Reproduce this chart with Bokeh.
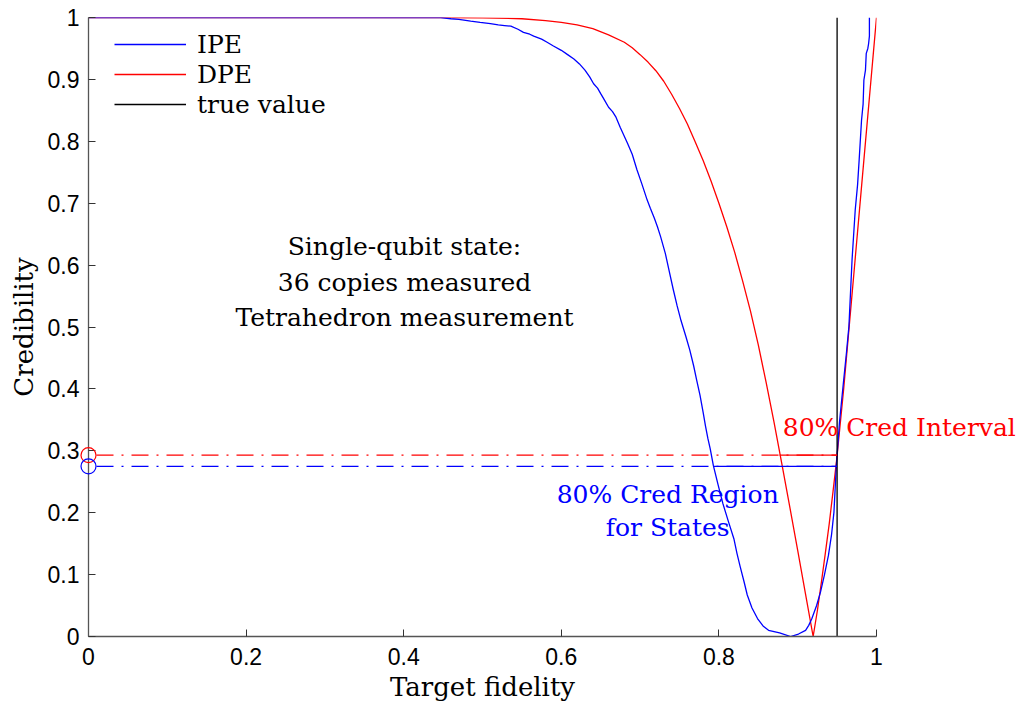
from bokeh.plotting import figure
from bokeh.models import Range1d, FixedTicker, Legend, LegendItem
from bokeh.core.properties import value
from bokeh.embed import file_html
from bokeh.resources import INLINE

# ---------------- data ----------------
ipe_x = [0.0, 0.447, 0.460, 0.470, 0.485, 0.497, 0.510, 0.520, 0.528, 0.536,
         0.545, 0.552, 0.560, 0.565, 0.575, 0.582, 0.590, 0.600, 0.608, 0.616,
         0.623, 0.630, 0.636, 0.641, 0.646, 0.650, 0.655, 0.660, 0.665, 0.669,
         0.675, 0.684, 0.690, 0.696, 0.702, 0.709, 0.713, 0.718, 0.722, 0.726,
         0.732, 0.737, 0.742, 0.747, 0.752, 0.758, 0.763, 0.768, 0.772, 0.776,
         0.780, 0.783, 0.786, 0.789, 0.793, 0.799, 0.805, 0.812, 0.819, 0.823,
         0.827, 0.832, 0.836, 0.842, 0.849, 0.856, 0.863, 0.877, 0.891, 0.901,
         0.910, 0.914, 0.918, 0.924, 0.929, 0.934, 0.939, 0.943, 0.946, 0.949,
         0.953, 0.958, 0.962, 0.965, 0.969, 0.973, 0.976, 0.978, 0.981, 0.983,
         0.984, 0.986, 0.987, 0.989, 0.990, 0.991, 0.991]
ipe_y = [1.0, 1.0, 0.998, 0.997, 0.994, 0.992, 0.990, 0.988, 0.987, 0.986,
         0.981, 0.976, 0.973, 0.970, 0.965, 0.960, 0.954, 0.947, 0.940, 0.933,
         0.925, 0.915, 0.904, 0.893, 0.886, 0.877, 0.866, 0.855, 0.848, 0.840,
         0.822, 0.797, 0.779, 0.754, 0.732, 0.705, 0.692, 0.676, 0.662, 0.646,
         0.619, 0.590, 0.561, 0.534, 0.510, 0.485, 0.463, 0.437, 0.413, 0.390,
         0.362, 0.340, 0.320, 0.303, 0.276, 0.245, 0.215, 0.186, 0.158, 0.134,
         0.113, 0.088, 0.067, 0.046, 0.029, 0.017, 0.010, 0.006, 0.0, 0.004,
         0.010, 0.018, 0.029, 0.050, 0.072, 0.100, 0.131, 0.165, 0.201, 0.275,
         0.346, 0.410, 0.460, 0.501, 0.609, 0.689, 0.730, 0.770, 0.834, 0.860,
         0.899, 0.915, 0.942, 0.950, 0.958, 0.970, 1.0]

dpe_x = [0.0, 0.45, 0.50, 0.55, 0.58, 0.60, 0.62, 0.64, 0.66, 0.68,
         0.69, 0.70, 0.71, 0.72, 0.73, 0.74, 0.75, 0.76, 0.77, 0.78,
         0.79, 0.80, 0.81, 0.82, 0.83, 0.84, 0.85, 0.86, 0.87, 0.88,
         0.89, 0.90, 0.91, 0.9196, 0.925, 0.930, 0.935, 0.940, 0.945, 0.950,
         0.9585, 0.971, 0.984, 1.0]
dpe_y = [1.0, 1.0, 0.9995, 0.998, 0.995, 0.992, 0.988, 0.982, 0.972, 0.960,
         0.951, 0.940, 0.928, 0.914, 0.897, 0.876, 0.853, 0.828, 0.799, 0.769,
         0.736, 0.700, 0.662, 0.621, 0.575, 0.526, 0.471, 0.410, 0.346, 0.278,
         0.209, 0.139, 0.068, 0.0, 0.042, 0.087, 0.134, 0.182, 0.236, 0.292,
         0.402, 0.582, 0.770, 1.0]

true_fidelity = 0.950
ipe_level = 0.275
dpe_level = 0.293
ipe_region_left = 0.793
dpe_interval_left = 0.877

x_ticks = [0, 0.2, 0.4, 0.6, 0.8, 1]
x_tick_labels = ["0", "0.2", "0.4", "0.6", "0.8", "1"]
y_ticks = [0, 0.1, 0.2, 0.3, 0.4, 0.5, 0.6, 0.7, 0.8, 0.9, 1]
y_tick_labels = ["0", "0.1", "0.2", "0.3", "0.4", "0.5", "0.6", "0.7", "0.8", "0.9", "1"]

series_names = ["IPE", "DPE", "true value"]
info_lines = ["Single-qubit state:", "36 copies measured", "Tetrahedron measurement"]
x_title = "Target fidelity"
y_title = "Credibility"

BLUE = "#0000ff"
RED = "#ff0000"
SERIF = "DejaVu Serif"
SANS = "Liberation Sans"

p = figure(width=1025, height=704, x_range=Range1d(0, 1), y_range=Range1d(0, 1),
           output_backend="svg", toolbar_location=None,
           min_border_left=88, min_border_right=149, min_border_top=17, min_border_bottom=66)
p.outline_line_color = None
p.xgrid.visible = False
p.ygrid.visible = False
p.background_fill_color = "white"

for ax, ticks, labels in ((p.xaxis[0], x_ticks, x_tick_labels), (p.yaxis[0], y_ticks, y_tick_labels)):
    ax.ticker = FixedTicker(ticks=ticks)
    ax.major_label_overrides = {t: l for t, l in zip(ticks, labels)}
    ax.minor_tick_line_color = None
    ax.major_tick_in = 7
    ax.major_tick_out = 0
    ax.major_tick_line_color = "#333333"
    ax.axis_line_color = "#555555"
    ax.axis_line_width = 1.3
    ax.major_label_text_font = SANS
    ax.major_label_text_font_size = "23px"
    ax.major_label_text_color = "black"
    ax.axis_label_text_font = SERIF
    ax.axis_label_text_font_size = "26px"
    ax.axis_label_text_font_style = "normal"
    ax.axis_label_text_color = "black"
p.xaxis.major_label_standoff = 11
p.yaxis.major_label_standoff = 9
p.xaxis.axis_label = x_title
p.yaxis.axis_label = y_title
p.xaxis.axis_label_standoff = 4
p.yaxis.axis_label_standoff = 6

# curves
r_dpe = p.line(dpe_x, dpe_y, line_color=RED, line_width=1.3)
r_ipe = p.line(ipe_x, ipe_y, line_color=BLUE, line_width=1.3)
r_true = p.line([true_fidelity, true_fidelity], [0, 1], line_color="black", line_width=1.3)

# credibility levels
p.line([0, true_fidelity], [dpe_level, dpe_level], line_color=RED, line_width=1.2,
       line_dash="17 8 2 8", line_dash_offset=27)
p.line([0, true_fidelity], [ipe_level, ipe_level], line_color=BLUE, line_width=1.2,
       line_dash="17 8 2 8", line_dash_offset=27)
p.line([dpe_interval_left, true_fidelity], [dpe_level, dpe_level], line_color=RED, line_width=1.3)
p.line([ipe_region_left, true_fidelity], [ipe_level, ipe_level], line_color=BLUE, line_width=1.3)
p.scatter([0], [dpe_level], marker="circle", size=15, fill_color=None, line_color=RED,
          line_width=1.2, level="overlay")
p.scatter([0], [ipe_level], marker="circle", size=15, fill_color=None, line_color=BLUE,
          line_width=1.2, level="overlay")

legend = Legend(items=[LegendItem(label=series_names[0], renderers=[r_ipe]),
                       LegendItem(label=series_names[1], renderers=[r_dpe]),
                       LegendItem(label=series_names[2], renderers=[r_true])],
                location=(26, 517), margin=0, padding=0, spacing=0,
                glyph_width=72, glyph_height=30, label_height=30, label_standoff=11,
                label_text_font=SERIF, label_text_font_size="25px", label_text_color="black",
                background_fill_alpha=0, border_line_color=None)
p.add_layout(legend)


def add_text(x, y, txt, align, color="black", size="25px"):
    p.text(x=[x], y=[y], text=[txt], text_align=align, text_baseline="middle",
           text_font=value(SERIF), text_font_size=size, text_color=color, level="overlay")


# annotations
for i, txt in enumerate(info_lines):
    add_text(0.401, 0.630 - i * 0.0575, txt, "center")
add_text(0.881, 0.337, "80% Cred Interval", "left", RED)
add_text(0.735, 0.229, "80% Cred Region", "center", BLUE)
add_text(0.735, 0.176, "for States", "center", BLUE)

open("out.html", "w").write(file_html(p, INLINE))
